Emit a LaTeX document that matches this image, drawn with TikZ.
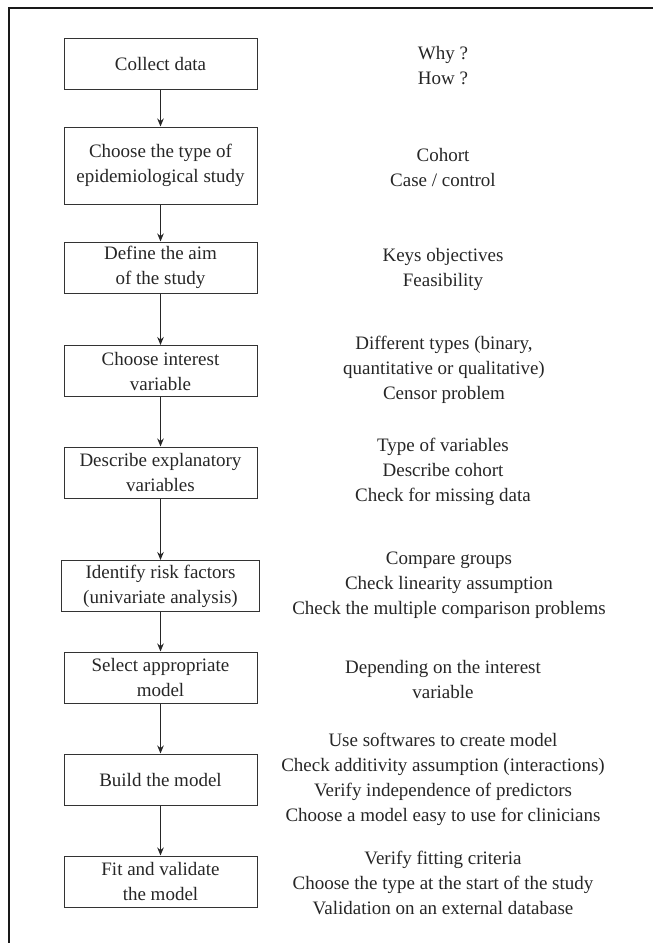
\documentclass[tikz,border=0pt]{standalone}
\usepackage{fontspec}
\setmainfont{Liberation Serif}
\usetikzlibrary{arrows.meta}
\begin{document}
\begin{tikzpicture}[x=1pt,y=-1pt,
  stepbox/.style={draw=black!80, line width=1pt, minimum width=193pt, minimum height=51pt,
    align=center, inner xsep=3pt, inner ysep=2pt, font=\fontsize{19}{25}\selectfont, text=black!85},
  note/.style={align=center, font=\fontsize{19}{25}\selectfont, text=black!85},
  link/.style={draw=black!85, line width=1.1pt, -{Stealth[length=8pt,width=6.5pt]}}]
\useasboundingbox (0,0) rectangle (653,943);
\draw[line width=2.5pt, black!90] (9,960) -- (9,8) -- (670,8);

\node[stepbox] (b1) at (160.5,63.5) {Collect data};
\node[stepbox, minimum height=77pt] (b2) at (160.5,165.5) {Choose the type of\\epidemiological study};
\node[stepbox] (b3) at (160.5,267.5) {Define the aim\\of the study};
\node[stepbox] (b4) at (160.5,371) {Choose interest\\variable};
\node[stepbox] (b5) at (160.5,472.5) {Describe explanatory\\variables};
\node[stepbox, minimum width=198pt] (b6) at (160.5,586) {Identify risk factors\\(univariate analysis)};
\node[stepbox] (b7) at (160.5,677.5) {Select appropriate\\model};
\node[stepbox] (b8) at (160.5,779.5) {Build the model};
\node[stepbox] (b9) at (160.5,881.5) {Fit and validate\\the model};

\foreach \a/\b in {b1/b2,b2/b3,b3/b4,b4/b5,b5/b6,b6/b7,b7/b8,b8/b9}
  \draw[link] (\a) -- (\b);

\node[note] (n1) at (443,66) {Why ?\\How ?};
\node[note] (n2) at (443,167.5) {Cohort\\Case / control};
\node[note] (n3) at (443,269) {Keys objectives\\Feasibility};
\node[note] (n4) at (444,370) {Different types (binary,\\quantitative or qualitative)\\Censor problem};
\node[note] (n5) at (443,472) {Type of variables\\Describe cohort\\Check for missing data};
\node[note] (n6) at (449,585) {Compare groups\\Check linearity assumption\\Check the multiple comparison problems};
\node[note] (n7) at (443,679.5) {Depending on the interest\\variable};
\node[note] (n8) at (443,779.5) {Use softwares to create model\\Check additivity assumption (interactions)\\Verify independence of predictors\\Choose a model easy to use for clinicians};
\node[note] (n9) at (443,883) {Verify fitting criteria\\Choose the type at the start of the study\\Validation on an external database};
\end{tikzpicture}
\end{document}
